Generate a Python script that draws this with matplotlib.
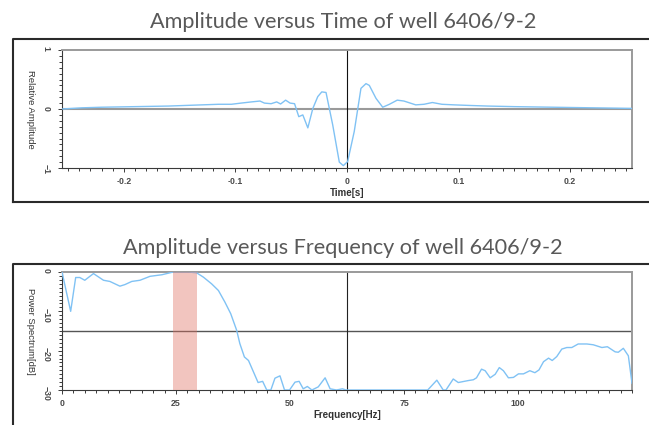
import matplotlib
matplotlib.use("Agg")
import matplotlib.pyplot as plt
from matplotlib.ticker import MultipleLocator, FixedLocator
from matplotlib.lines import Line2D

# ---------------- data ----------------
time_s = [-0.2554, -0.2375, -0.22, -0.19, -0.16, -0.13, -0.115, -0.1036, -0.095,
          -0.0857, -0.078, -0.074, -0.068, -0.063, -0.0595, -0.055, -0.051, -0.047,
          -0.0432, -0.0396, -0.0351, -0.0306, -0.0262, -0.0226, -0.0188, -0.0128,
          -0.0069, -0.0033, 0.0006, 0.0065, 0.0125, 0.017, 0.020, 0.026, 0.032,
          0.038, 0.045, 0.051, 0.0616, 0.069, 0.0765, 0.085, 0.096, 0.11, 0.126,
          0.15, 0.185, 0.22, 0.2554]
amplitude = [0.0, 0.02, 0.03, 0.04, 0.05, 0.07, 0.08, 0.08, 0.10,
             0.12, 0.135, 0.10, 0.09, 0.12, 0.085, 0.15, 0.10, 0.09,
             -0.13, -0.10, -0.32, 0.01, 0.21, 0.29, 0.28, -0.27,
             -0.90, -0.96, -0.89, -0.38, 0.35, 0.43, 0.40, 0.18, 0.03,
             0.08, 0.15, 0.135, 0.07, 0.08, 0.11, 0.08, 0.07, 0.06, 0.05,
             0.04, 0.03, 0.02, 0.01]

freq_hz = [0, 1.9, 3.0, 3.9, 5.0, 6.9, 9.1, 10.5, 12.7, 13.8, 15.3, 17.1, 19.3,
           21.9, 24.4, 27.7, 29.5, 31.0, 32.8, 34.3, 35.7, 37.0, 38.3, 39.0,
           40.0, 40.9, 43.0, 44.0, 44.9, 45.8, 46.7, 47.8, 48.8, 49.9, 51.1,
           52.0, 52.9, 53.8, 54.8, 56.2, 57.7, 58.8, 60.2, 61.5, 62.3, 80.2,
           82.2, 83.6, 84.2, 85.8, 86.9, 89.1, 90.2, 90.9, 92.0, 92.8, 93.9,
           95.0, 95.9, 96.8, 97.9, 99.0, 100.1, 101.2, 102.6, 103.7, 104.6,
           105.6, 106.7, 107.5, 108.5, 109.6, 110.7, 111.8, 113.2, 115.1,
           116.5, 118.4, 119.6, 121.3, 122.0, 123.1, 124.2, 125.0]
power_db = [0, -10, -1.4, -1.4, -2.1, -0.4, -2.1, -2.4, -3.6, -3.2, -2.4, -2.1, -1.1,
            -0.7, 0, 0, -0.2, -1.3, -3.0, -4.7, -7.6, -10.6, -14.8, -18.2,
            -21.6, -22.5, -28.1, -27.8, -30, -30, -27, -26.4, -30, -30, -28,
            -27.8, -29.7, -29.1, -30, -29.2, -26.9, -29.7, -30, -29.7, -30, -30,
            -27.5, -30, -30, -27.2, -28.1, -27.6, -27.4, -26.9, -24.7, -25.1, -26.9,
            -26.0, -24.3, -25.1, -26.9, -26.8, -25.9, -25.9, -25.1, -25.6, -24.9,
            -22.8, -21.9, -22.5, -21.5, -19.6, -19.2, -19.2, -18.3, -18.3,
            -18.5, -19.2, -19.0, -20.3, -20.4, -19.4, -21.3, -28.3]

band_hz = [24.3, 29.6]

time_ticks = [-0.2, -0.1, 0, 0.1, 0.2]
time_ticklabels = ["-0.2", "-0.1", "0", "0.1", "0.2"]
amp_ticks = [-1, 0, 1]
freq_ticks = [0, 25, 50, 75, 100]
db_ticks = [-30, -20, -10, 0]

title_top = "Amplitude versus Time of well 6406/9-2"
title_bottom = "Amplitude versus Frequency of well 6406/9-2"

# ---------------- figure ----------------
W, H = 649, 425
fig = plt.figure(figsize=(W / 100, H / 100), dpi=100)

def fx(px):
    return px / W

def fy(py):
    return 1 - py / H

LINE = "#80c2f4"
TICKFONT = dict(family="Liberation Sans", size=6.3, weight="bold")
TICKCOL = "#4a4a4a"

def style_axes(ax):
    for s in ("top", "right"):
        ax.spines[s].set_color("#9a9a9a")
        ax.spines[s].set_linewidth(1.4)
    for s in ("bottom", "left"):
        ax.spines[s].set_color("#3a3a3a")
        ax.spines[s].set_linewidth(0.8)
    ax.tick_params(which="both", direction="out", color="#3a3a3a", width=0.7,
                   labelcolor=TICKCOL)
    ax.tick_params(which="major", length=3.2)
    ax.tick_params(which="minor", length=2.2)
    ax.tick_params(axis="x", pad=3.0)
    ax.tick_params(axis="y", labelrotation=270, pad=5.0)
    for lab in ax.get_xticklabels() + ax.get_yticklabels():
        lab.set_fontproperties(matplotlib.font_manager.FontProperties(**TICKFONT))

# ---- top axes ----
ax1 = fig.add_axes([fx(62), fy(168), fx(570), 118 / H])
ax1.plot(time_s, amplitude, color=LINE, lw=1.0, zorder=3)
ax1.axhline(0, color="#9a9a9a", lw=1.5, zorder=2)
ax1.axvline(0, color="#111111", lw=0.8, zorder=2)
ax1.set_xlim(-0.2554, 0.2554)
ax1.set_ylim(-1, 1)
ax1.xaxis.set_major_locator(FixedLocator(time_ticks))
ax1.set_xticklabels(time_ticklabels)
ax1.xaxis.set_minor_locator(MultipleLocator(0.01))
ax1.yaxis.set_major_locator(FixedLocator(amp_ticks))
ax1.yaxis.set_minor_locator(MultipleLocator(0.1))
style_axes(ax1)
ax1.text(0.5, -0.215, "Time[s]", transform=ax1.transAxes, ha="center", va="center",
         fontsize=7.0, fontweight="bold", family="Liberation Sans", color="#333333")
ax1.text(-0.056, 0.5, "Relative Amplitude", transform=ax1.transAxes, rotation=270,
         ha="center", va="center", fontsize=6.8, family="Liberation Sans",
         color="#333333")

# ---- bottom axes ----
ax2 = fig.add_axes([fx(62), fy(390), fx(570), 118 / H])
ax2.plot(freq_hz, power_db, color=LINE, lw=1.0, zorder=3)
ax2.axhline(-15, color="#555555", lw=1.0, zorder=2)
ax2.axvline(62.5, color="#222222", lw=0.8, zorder=2)
ax2.axvspan(band_hz[0], band_hz[1], color="#e07060", alpha=0.4, lw=0, zorder=4)
ax2.set_xlim(0, 125)
ax2.set_ylim(-30, 0)
ax2.xaxis.set_major_locator(FixedLocator(freq_ticks))
ax2.xaxis.set_minor_locator(MultipleLocator(2.5))
ax2.yaxis.set_major_locator(FixedLocator(db_ticks))
ax2.yaxis.set_minor_locator(MultipleLocator(1))
style_axes(ax2)
ax2.text(0.5, -0.215, "Frequency[Hz]", transform=ax2.transAxes, ha="center",
         va="center", fontsize=7.0, fontweight="bold", family="Liberation Sans",
         color="#333333")
ax2.text(-0.056, 0.5, "Power Spectrum[dB]", transform=ax2.transAxes, rotation=270,
         ha="center", va="center", fontsize=6.8, family="Liberation Sans",
         color="#333333")

# ---- titles ----
fig.text(fx(343), fy(28), title_top, ha="center", va="baseline", fontsize=15.6,
         family="Lato", color="#595959")
fig.text(fx(343), fy(254), title_bottom, ha="center", va="baseline", fontsize=15.6,
         family="Lato", color="#595959")

# ---- outer frames ----
fcol = "#2a2a2a"
fig.add_artist(Line2D([fx(13), fx(13), 1.0], [fy(202), fy(38.5), fy(38.5)],
                      color=fcol, lw=1.5, transform=fig.transFigure))
fig.add_artist(Line2D([fx(13), 1.0], [fy(202), fy(202)],
                      color=fcol, lw=1.5, transform=fig.transFigure))
fig.add_artist(Line2D([fx(13), fx(13), 1.0], [0.0, fy(264), fy(264)],
                      color=fcol, lw=1.5, transform=fig.transFigure))

fig.savefig("out.png", dpi=100)
